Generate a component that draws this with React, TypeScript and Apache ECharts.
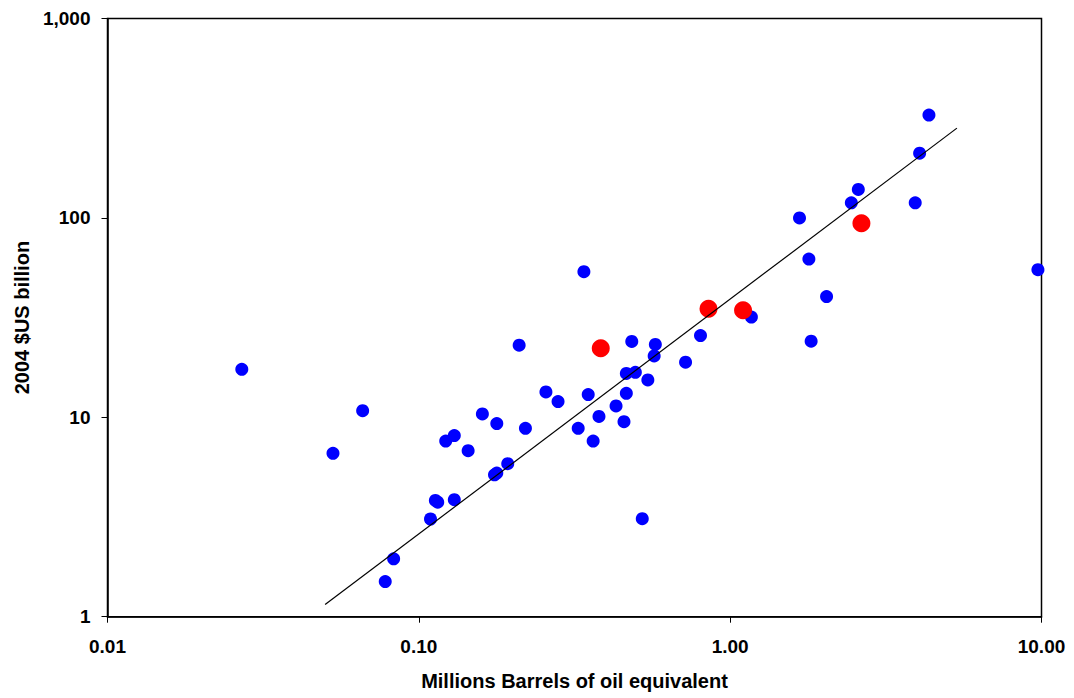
import React, { useEffect, useRef } from "react";
import * as echarts from "echarts";

// Blue points: [millions barrels of oil equivalent, 2004 $US billion]
const bluePoints: [number, number][] = [
  [0.027, 17.4], [0.053, 6.6], [0.066, 10.8], [0.078, 1.5], [0.083, 1.95],
  [0.109, 3.09], [0.113, 3.83], [0.115, 3.75], [0.13, 3.86], [0.122, 7.6],
  [0.13, 8.1], [0.144, 6.8], [0.16, 10.4], [0.178, 9.3], [0.175, 5.15],
  [0.178, 5.25], [0.193, 5.85], [0.21, 23], [0.22, 8.8], [0.256, 13.4],
  [0.28, 12.0], [0.325, 8.8], [0.339, 53.7], [0.35, 13.0], [0.363, 7.6],
  [0.379, 10.1], [0.43, 11.4], [0.456, 9.5], [0.464, 13.2], [0.464, 16.6],
  [0.496, 16.8], [0.483, 24], [0.522, 3.1], [0.544, 15.4], [0.57, 20.3],
  [0.575, 23.2], [0.719, 18.9], [0.803, 25.7], [1.17, 31.8], [1.67, 100],
  [1.79, 62.2], [1.82, 24.1], [2.04, 40.3], [2.45, 119], [2.58, 139],
  [3.93, 119], [4.06, 211], [4.35, 328], [9.74, 55],
];

// Red (highlighted) points
const redPoints: [number, number][] = [
  [0.384, 22.2], [0.852, 35], [1.1, 34.4], [2.64, 94],
];

// Power-law trend line end points
const trendLine: [number, number][] = [
  [0.05, 1.15], [5.35, 282],
];

const xAxisTitle = "Millions Barrels of oil equivalent";
const yAxisTitle = "2004 $US billion";

const FONT = "Arial, 'Liberation Sans', sans-serif";

export default function App() {
  const ref = useRef<HTMLDivElement>(null);

  useEffect(() => {
    if (!ref.current) return;
    const chart = echarts.init(ref.current, undefined, { renderer: "svg" });
    chart.setOption({
      animation: false,
      backgroundColor: "#ffffff",
      grid: {
        left: 107.5,
        top: 18.5,
        right: 32.5,
        bottom: 81.3,
        show: true,
        borderColor: "#000",
        borderWidth: 1.5,
        backgroundColor: "transparent",
      },
      xAxis: {
        type: "log",
        logBase: 10,
        min: 0.01,
        max: 10,
        name: xAxisTitle,
        nameLocation: "middle",
        nameGap: 54,
        nameTextStyle: { fontFamily: FONT, fontWeight: "bold", fontSize: 20, color: "#000" },
        axisLine: { show: true, lineStyle: { color: "#000", width: 1.5 } },
        axisTick: { show: true, inside: false, length: 6, lineStyle: { color: "#000", width: 1 } },
        minorTick: { show: false },
        splitLine: { show: false },
        axisLabel: {
          margin: 20,
          fontFamily: FONT,
          fontWeight: "bold",
          fontSize: 19,
          color: "#000",
          formatter: (v: number) => v.toFixed(2),
        },
      },
      yAxis: {
        type: "log",
        logBase: 10,
        min: 1,
        max: 1000,
        name: yAxisTitle,
        nameLocation: "middle",
        nameGap: 74,
        nameRotate: 90,
        nameTextStyle: { fontFamily: FONT, fontWeight: "bold", fontSize: 20, color: "#000" },
        axisLine: { show: true, lineStyle: { color: "#000", width: 1.5 } },
        axisTick: { show: true, inside: false, length: 6, lineStyle: { color: "#000", width: 1 } },
        minorTick: { show: false },
        splitLine: { show: false },
        axisLabel: {
          margin: 17,
          fontFamily: FONT,
          fontWeight: "bold",
          fontSize: 19,
          color: "#000",
          formatter: (v: number) => Math.round(v).toLocaleString("en-US"),
        },
      },
      series: [
        {
          type: "scatter",
          data: bluePoints,
          symbol: "circle",
          symbolSize: 13,
          itemStyle: { color: "#0000ff", opacity: 1 },
          z: 2,
        },
        {
          type: "scatter",
          data: redPoints,
          symbol: "circle",
          symbolSize: 18,
          itemStyle: { color: "#ff0000", opacity: 1 },
          z: 3,
        },
        {
          type: "line",
          data: trendLine,
          showSymbol: false,
          symbol: "none",
          lineStyle: { color: "#000", width: 1.2 },
          z: 4,
        },
      ],
    });
    return () => chart.dispose();
  }, []);

  return (
    <div
      ref={ref}
      style={{ position: "fixed", left: 0, top: 0, width: 1074, height: 698, background: "#fff" }}
    />
  );
}
